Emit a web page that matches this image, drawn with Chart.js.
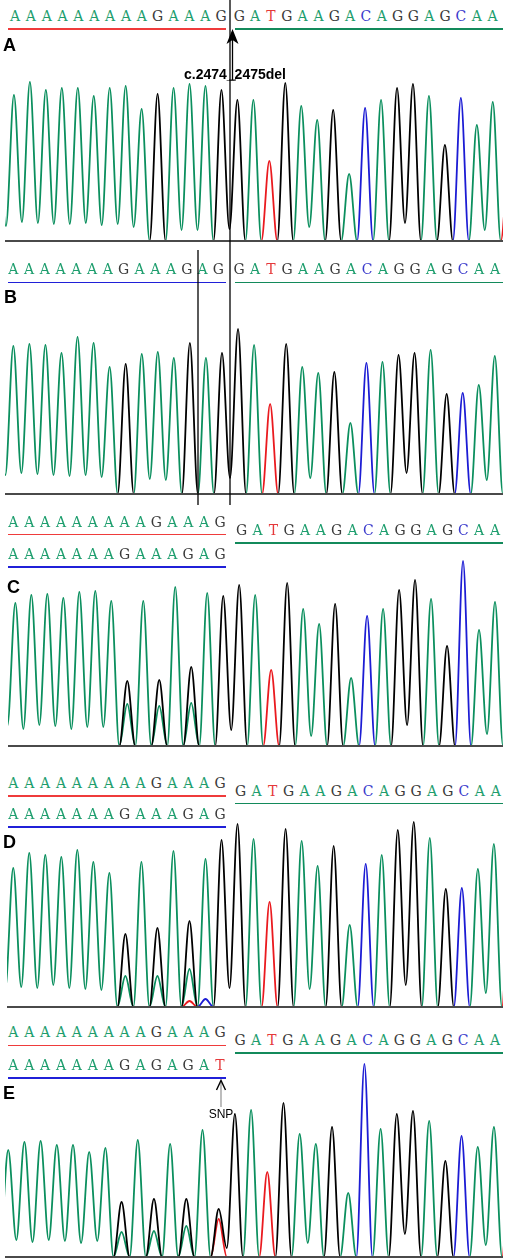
<!DOCTYPE html>
<html>
<head>
<meta charset="utf-8">
<script src="https://cdn.jsdelivr.net/npm/chart.js@4.4.1/dist/chart.umd.min.js"></script>
<style>
  body { margin: 0; background: #fff; }
  #fig { position: relative; width: 505px; height: 1259px; overflow: hidden; font-family: "Liberation Sans", Arial, sans-serif; }
  #fig canvas { position: absolute; left: 0; }
  .nt { position: absolute; font-family: "DejaVu Serif", serif; font-size: 14px; line-height: 14px; transform: translateX(-50%); white-space: pre; }
  .ul { position: absolute; height: 1.5px; }
  .tag { position: absolute; font-weight: bold; font-size: 18px; line-height: 18px; color: #000; }
  .note { position: absolute; white-space: nowrap; transform: translateX(-50%); color: #000; }
  svg { position: absolute; left: 0; top: 0; }
</style>
</head>
<body>
<div id="fig"></div>
<script>
// base positions along the read, one peak per base (-1 and 31 are the clipped edge peaks)
const posList = [-1, 0, 1, 2, 3, 4, 5, 6, 7, 8, 9, 10, 11, 12, 13, 14, 15, 16, 17, 18, 19, 20,
  21, 22, 23, 24, 25, 26, 27, 28, 29, 30, 31];

// sequence text shown over the traces
const refLeft = 'AAAAAAAAAGAAAG';
const delLeft = 'AAAAAAAGAAAGAG';
const snpLeft = 'AAAAAAAGAGAGAT';
const rightSeq = 'GATGAAGACAGGAGCAA';

// called (tallest) base at each position
const callA = 'A' + refLeft + rightSeq + 'T';
const callB = 'A' + delLeft + rightSeq + 'T';
const callMix = 'A' + 'AAAAAAAGAGAGAG' + rightSeq + 'T';

// peak height of the called base at each position
const peakA = [150, 146, 159, 151, 153, 153, 145, 153, 155, 132, 147, 153, 157, 155, 151,
  141, 141, 80, 158, 135, 121, 131, 67, 133, 141, 153, 157, 145, 96, 143, 116, 139, 100];
const peakB = [150, 148, 150, 149, 141, 157, 151, 127, 130, 140, 142, 136, 151, 136, 141,
  165, 149, 90, 150, 127, 121, 122, 71, 131, 132, 139, 141, 144, 100, 101, 109, 138, 100];
const peakC = [150, 143, 151, 152, 148, 154, 155, 145, 65, 145, 66, 159, 79, 153, 150,
  161, 151, 76, 163, 137, 122, 142, 68, 130, 137, 156, 166, 147, 100, 185, 116, 144, 90];
const peakD = [150, 139, 154, 152, 150, 157, 145, 134, 73, 145, 79, 156, 86, 148, 167,
  183, 168, 105, 178, 166, 141, 161, 82, 143, 152, 177, 185, 169, 118, 119, 138, 163, 180];
const peakE = [110, 107, 115, 116, 112, 112, 105, 109, 55, 117, 58, 113, 58, 127, 48,
  143, 147, 85, 154, 123, 113, 130, 64, 193, 128, 143, 146, 136, 96, 121, 110, 130, 150];

// trough between two neighbouring peaks of the same base
const valleyA = [15, 19, 18, 17, 17, 18, 16, 17, 14, 0, 0, 11, 11, 0, 12, 0, 0, 0, 0, 14,
  0, 0, 0, 0, 0, 18, 0, 0, 0, 0, 11, 0];
const valleyB = [19, 21, 20, 19, 18, 19, 17, 0, 0, 15, 14, 0, 0, 0, 16, 0, 0, 0, 0, 16,
  0, 0, 0, 0, 0, 21, 0, 0, 0, 0, 14, 0];
const valleyC = [20, 17, 21, 20, 17, 19, 19, 0, 0, 0, 0, 0, 0, 0, 16, 0, 0, 0, 0, 10,
  0, 0, 0, 0, 0, 21, 0, 0, 0, 0, 12, 0];
const valleyD = [18, 20, 19, 22, 19, 18, 17, 0, 0, 0, 0, 0, 0, 0, 19, 0, 0, 0, 0, 18,
  0, 0, 0, 0, 0, 22, 0, 0, 0, 0, 14, 0];
const valleyE = [15, 17, 15, 17, 16, 14, 16, 0, 0, 0, 0, 0, 0, 0, 9, 0, 0, 0, 0, 14,
  0, 0, 0, 0, 0, 23, 0, 0, 0, 0, 12, 0];

// secondary (overlapping) peaks
const minorC = [{ pos: 7, base: 'A', h: 42 }, { pos: 9, base: 'A', h: 40 }, { pos: 11, base: 'A', h: 43 }];
const minorD = [{ pos: 7, base: 'A', h: 31 }, { pos: 9, base: 'A', h: 31 }, { pos: 11, base: 'A', h: 38 },
  { pos: 11, base: 'T', h: 6 }, { pos: 12, base: 'C', h: 8 }];
const minorE = [{ pos: 7, base: 'A', h: 25 }, { pos: 9, base: 'A', h: 26 }, { pos: 11, base: 'A', h: 31 },
  { pos: 13, base: 'T', h: 38 }];

const traceColor = { A: '#0b8f5e', G: '#000000', T: '#ea1a1f', C: '#1c1cd4' };
const letterColor = { A: '#1e9e6e', G: '#3a3a3a', T: '#e5393b', C: '#3b3bcc' };
const lineColor = { red: '#ef3b3b', green: '#138a5b', blue: '#2020d8' };

const panels = [
  { tag: 'A', tagX: 3, tagY: 38, calls: callA, peaks: peakA, valleys: valleyA, minor: [],
    baseY: 241, padLeft: 5, xMin: -0.56, xMax: 30.64,
    rows: [{ seq: refLeft, x0: 15, step: 15.85, cy: 15.5, line: 'red', block: 'L' },
           { seq: rightSeq, x0: 239.3, step: 15.83, cy: 15.5, line: 'green', block: 'R' }] },
  { tag: 'B', tagX: 4, tagY: 290, calls: callB, peaks: peakB, valleys: valleyB, minor: [],
    baseY: 494, padLeft: 5, xMin: -0.52, xMax: 30.51,
    rows: [{ seq: delLeft, x0: 13.3, step: 15.77, cy: 269, line: 'blue', block: 'L' },
           { seq: rightSeq, x0: 239, step: 16.0, cy: 269, line: 'green', block: 'R' }] },
  { tag: 'C', tagX: 7, tagY: 580, calls: callMix, peaks: peakC, valleys: valleyC, minor: minorC,
    baseY: 746, padLeft: 8, xMin: -0.46, xMax: 30.5,
    rows: [{ seq: refLeft, x0: 13.3, step: 15.9, cy: 521.3, line: 'red', block: 'L' },
           { seq: rightSeq, x0: 241.7, step: 15.83, cy: 529.7, line: 'green', block: 'R' },
           { seq: delLeft, x0: 13.3, step: 15.9, cy: 553.7, line: 'blue', block: 'L' }] },
  { tag: 'D', tagX: 3, tagY: 835, calls: callMix, peaks: peakD, valleys: valleyD, minor: minorD,
    baseY: 1007, padLeft: 7, xMin: -0.39, xMax: 30.57,
    rows: [{ seq: refLeft, x0: 13.3, step: 15.9, cy: 782.7, line: 'red', block: 'L' },
           { seq: rightSeq, x0: 240.7, step: 15.94, cy: 790.3, line: 'green', block: 'R' },
           { seq: delLeft, x0: 13.3, step: 15.9, cy: 813.7, line: 'blue', block: 'L' }] },
  { tag: 'E', tagX: 3, tagY: 1086, calls: callMix, peaks: peakE, valleys: valleyE, minor: minorE,
    baseY: 1257, padLeft: 5, xMin: -0.2, xMax: 30.56,
    rows: [{ seq: refLeft, x0: 13.3, step: 15.9, cy: 1032, line: 'red', block: 'L' },
           { seq: rightSeq, x0: 240, step: 15.94, cy: 1039.7, line: 'green', block: 'R' },
           { seq: snpLeft, x0: 13.3, step: 15.9, cy: 1064.7, line: 'blue', block: 'L' }] }
];

const fig = document.getElementById('fig');
const Y_MAX = 200;

function tracePoints(base, p) {
  const pts = [];
  posList.forEach((pos, k) => {
    let y = p.calls[k] === base ? p.peaks[k] : 0;
    p.minor.forEach(m => { if (m.pos === pos && m.base === base) y = m.h; });
    pts.push({ x: pos, y: y });
    if (k < posList.length - 1) {
      const same = p.calls[k] === base && p.calls[k + 1] === base;
      pts.push({ x: pos + 0.5, y: same ? p.valleys[k] : 0 });
    }
  });
  return pts;
}

// grey baseline under each trace, drawn on top like the sequencer output
const baselinePlugin = {
  id: 'baseline',
  afterDatasetsDraw(chart) {
    const { ctx, chartArea, scales } = chart;
    const y = scales.y.getPixelForValue(0);
    ctx.save();
    ctx.strokeStyle = '#4a4a4a';
    ctx.lineWidth = 2;
    ctx.beginPath();
    ctx.moveTo(chartArea.left, y);
    ctx.lineTo(chartArea.right, y);
    ctx.stroke();
    ctx.restore();
  }
};

panels.forEach(p => {
  const canvas = document.createElement('canvas');
  canvas.width = 505;
  canvas.height = Y_MAX + 2;
  canvas.style.top = (p.baseY - Y_MAX) + 'px';
  fig.appendChild(canvas);

  new Chart(canvas, {
    type: 'line',
    data: {
      datasets: ['G', 'T', 'C', 'A'].map(b => ({
        label: b,
        data: tracePoints(b, p),
        borderColor: traceColor[b],
        borderWidth: 1.8,
        pointRadius: 0,
        fill: false,
        cubicInterpolationMode: 'monotone'
      }))
    },
    options: {
      responsive: false,
      animation: false,
      events: [],
      layout: { padding: { left: p.padLeft, right: 2, top: 0, bottom: 2 } },
      plugins: { legend: { display: false }, tooltip: { enabled: false } },
      scales: {
        x: { type: 'linear', min: p.xMin, max: p.xMax, display: false },
        y: { min: 0, max: Y_MAX, display: false }
      }
    },
    plugins: [baselinePlugin]
  });

  // sequence letters and their underlines
  p.rows.forEach(r => {
    [...r.seq].forEach((ch, i) => {
      const s = document.createElement('span');
      s.className = 'nt';
      s.textContent = ch;
      s.style.color = letterColor[ch];
      s.style.left = (r.x0 + r.step * i) + 'px';
      s.style.top = (r.cy - 6.75) + 'px';
      fig.appendChild(s);
    });
    const u = document.createElement('div');
    u.className = 'ul';
    u.style.background = lineColor[r.line];
    u.style.top = (r.cy + 12.5) + 'px';
    u.style.left = (r.block === 'L' ? 8 : 235) + 'px';
    u.style.width = (r.block === 'L' ? 218 : 268) + 'px';
    fig.appendChild(u);
  });

  const t = document.createElement('div');
  t.className = 'tag';
  t.textContent = p.tag;
  t.style.left = p.tagX + 'px';
  t.style.top = (p.tagY - 2.35) + 'px';
  fig.appendChild(t);
});

// annotations
const del = document.createElement('div');
del.className = 'note';
del.textContent = 'c.2474_2475del';
del.style.cssText += 'left:235px;top:67.2px;font-size:14px;line-height:14px;font-weight:bold;';
fig.appendChild(del);

const snp = document.createElement('div');
snp.className = 'note';
snp.textContent = 'SNP';
snp.style.cssText += 'left:221px;top:1108.2px;font-size:12px;line-height:12px;';
fig.appendChild(snp);

fig.insertAdjacentHTML('beforeend',
  '<svg width="505" height="1259">' +
  '<line x1="230" y1="0" x2="230" y2="505" stroke="#000" stroke-width="1.3"/>' +
  '<line x1="198" y1="250" x2="198" y2="505" stroke="#000" stroke-width="1.3"/>' +
  '<line x1="232.5" y1="40" x2="232.5" y2="80" stroke="#000" stroke-width="1.3"/>' +
  '<line x1="229" y1="80" x2="236" y2="80" stroke="#000" stroke-width="1"/>' +
  '<path d="M232.5 29 L238.5 44 L232.5 40 L226.5 44 Z" fill="#000"/>' +
  '<line x1="221" y1="1083" x2="221" y2="1107" stroke="#999" stroke-width="1.3"/>' +
  '<polyline points="216.5,1090 221,1080.5 225.5,1090" fill="none" stroke="#000" stroke-width="1.4"/>' +
  '</svg>');
</script>
</body>
</html>
